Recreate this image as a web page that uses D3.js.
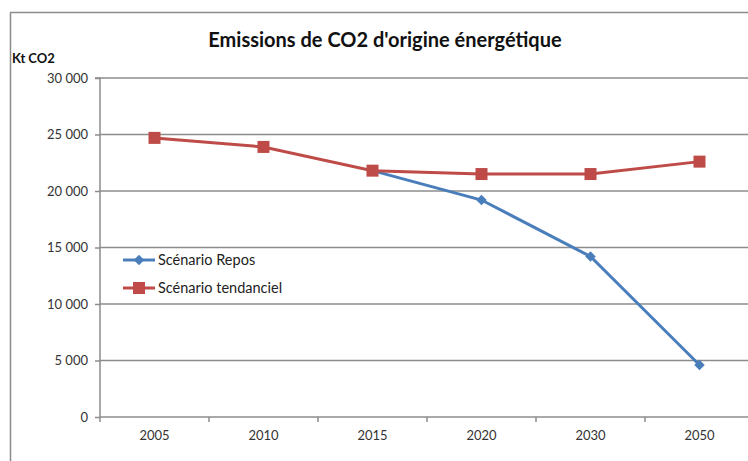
<!DOCTYPE html>
<html>
<head>
<meta charset="utf-8">
<script src="https://cdn.jsdelivr.net/npm/d3@7"></script>
<style>
  body { margin: 0; background: #fff; }
  text { font-family: Lato, "Open Sans", sans-serif; }
</style>
</head>
<body>
<div id="chart"></div>
<script>
var years = ["2005", "2010", "2015", "2020", "2030", "2050"];
var tendanciel = [24700, 23900, 21800, 21500, 21500, 22600];
var repos = [null, null, 21800, 19200, 14200, 4600];
var yTicks = [0, 5000, 10000, 15000, 20000, 25000, 30000];

var width = 748, height = 461;
var margin = {left: 100, top: 78, right: -6, bottom: 44};

var svg = d3.select("#chart").append("svg")
    .attr("width", width)
    .attr("height", height);

// chart frame (cropped on right and bottom)
svg.append("path")
    .attr("d", "M10.5," + height + "V12.5H" + width)
    .attr("fill", "none")
    .attr("stroke", "#8c8c8c")
    .attr("stroke-width", 1.5);

var x = d3.scaleBand()
    .domain(years)
    .range([margin.left, width - margin.right]);

var y = d3.scaleLinear()
    .domain([0, 30000])
    .range([height - margin.bottom, margin.top]);

var fmt = function (d) { return d3.format(",")(d).replace(/,/g, " "); };

// gridlines
svg.append("g").selectAll("line")
    .data(yTicks.slice(1))
    .enter().append("line")
    .attr("x1", margin.left).attr("x2", width)
    .attr("y1", function (d) { return y(d); })
    .attr("y2", function (d) { return y(d); })
    .attr("stroke", "#8c8c8c")
    .attr("stroke-width", 1.5);

// y axis
var yAxis = svg.append("g")
    .attr("transform", "translate(" + margin.left + ",0)")
    .call(d3.axisLeft(y).tickValues(yTicks).tickFormat(fmt).tickSize(5).tickPadding(7));
yAxis.selectAll("line, path").attr("stroke", "#8c8c8c").attr("stroke-width", 1.5);
yAxis.select(".domain").attr("d", "M-5," + y(30000) + "H0V" + y(0));
yAxis.selectAll("text").attr("font-size", 13).attr("fill", "#333")
    .style("font-family", "Lato, sans-serif");

// x axis
var xAxis = svg.append("g")
    .attr("transform", "translate(0," + y(0) + ")")
    .call(d3.axisBottom(x).tickSize(0).tickPadding(14));
xAxis.select(".domain").attr("stroke", "#8c8c8c").attr("stroke-width", 1.5)
    .attr("d", "M" + margin.left + ",0H" + width);
xAxis.selectAll("text").attr("font-size", 13).attr("fill", "#333")
    .style("font-family", "Lato, sans-serif");
var bounds = years.map(function (d) { return x(d); });
svg.append("g").selectAll("line")
    .data(bounds)
    .enter().append("line")
    .attr("x1", function (d) { return d; }).attr("x2", function (d) { return d; })
    .attr("y1", y(0)).attr("y2", y(0) + 5)
    .attr("stroke", "#8c8c8c")
    .attr("stroke-width", 1.5);

var cx = function (d, i) { return x(years[i]) + x.bandwidth() / 2; };

var line = d3.line()
    .defined(function (d) { return d != null; })
    .x(cx)
    .y(function (d) { return y(d); });

var blue = "#4a7ebb", red = "#be4b48";

// Repos series
svg.append("path").datum(repos)
    .attr("d", line)
    .attr("fill", "none")
    .attr("stroke", blue)
    .attr("stroke-width", 3);

// tendanciel series
svg.append("path").datum(tendanciel)
    .attr("d", line)
    .attr("fill", "none")
    .attr("stroke", red)
    .attr("stroke-width", 3);

svg.append("g").selectAll("path")
    .data(repos)
    .enter().filter(function (d) { return d != null; })
    .append("path")
    .attr("d", d3.symbol().type(d3.symbolDiamond2).size(70))
    .attr("transform", function (d) {
        var i = repos.indexOf(d);
        return "translate(" + cx(d, i) + "," + y(d) + ")";
    })
    .attr("fill", blue);

svg.append("g").selectAll("rect")
    .data(tendanciel)
    .enter().append("rect")
    .attr("x", function (d, i) { return cx(d, i) - 6; })
    .attr("y", function (d) { return y(d) - 6; })
    .attr("width", 12).attr("height", 12)
    .attr("fill", red);

// legend
var legend = [
    {name: "Scénario Repos", color: blue, marker: "diamond"},
    {name: "Scénario tendanciel", color: red, marker: "square"}
];
var lg = svg.append("g").attr("transform", "translate(123,260)");
legend.forEach(function (l, i) {
    var g = lg.append("g").attr("transform", "translate(0," + i * 28 + ")");
    g.append("line").attr("x1", 0).attr("x2", 32).attr("y1", 0).attr("y2", 0)
        .attr("stroke", l.color).attr("stroke-width", 3);
    if (l.marker === "square") {
        g.append("rect").attr("x", 10).attr("y", -6).attr("width", 12).attr("height", 12)
            .attr("fill", l.color);
    } else {
        g.append("path").attr("d", d3.symbol().type(d3.symbolDiamond2).size(70))
            .attr("transform", "translate(16,0)").attr("fill", l.color);
    }
    g.append("text").attr("x", 35).attr("y", 5)
        .attr("font-size", 14.5).attr("fill", "#222")
        .text(l.name);
});

// title
svg.append("text")
    .attr("x", 385).attr("y", 47)
    .attr("text-anchor", "middle")
    .attr("font-size", 20)
    .attr("font-weight", "bold")
    .attr("fill", "#111")
    .text("Emissions de CO2 d'origine énergétique");

svg.append("text")
    .attr("x", 12).attr("y", 63)
    .attr("font-size", 13)
    .attr("font-weight", "bold")
    .attr("fill", "#111")
    .text("Kt CO2");
</script>
</body>
</html>
